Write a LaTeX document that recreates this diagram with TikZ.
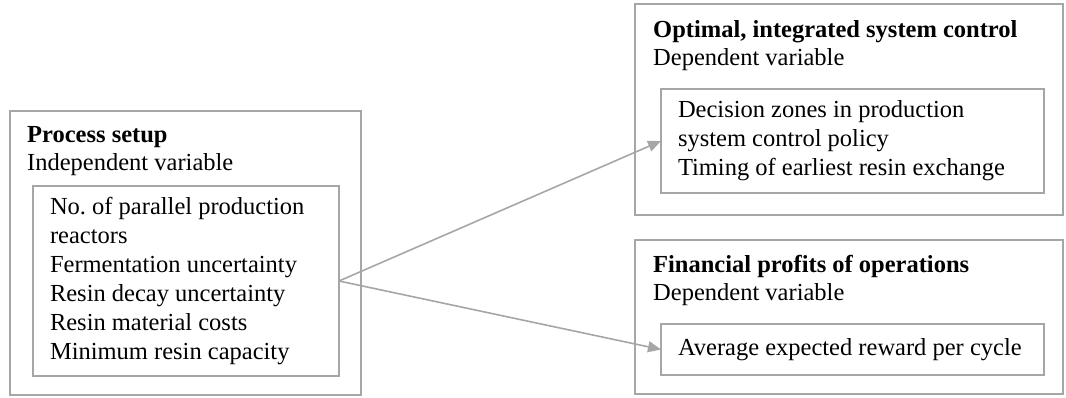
\documentclass[tikz,border=0pt]{standalone}
\usepackage{fontspec}
\setmainfont{Liberation Serif}
\usepackage{xcolor}
\usetikzlibrary{arrows.meta,positioning}
\definecolor{boxgray}{RGB}{166,166,166}

\begin{document}
\begin{tikzpicture}[x=1pt, y=-1pt, >={Triangle[length=13pt,width=11pt]},
  frame/.style={draw=boxgray, line width=1.6pt, anchor=north west,
    inner sep=0pt, outer sep=0pt},
  head/.style={anchor=base west, align=left, inner sep=0pt,
    font=\fontsize{24.5}{28}\selectfont},
  items/.style={draw=boxgray, line width=1.6pt, anchor=north west,
    align=flush left, inner xsep=17pt, inner ysep=0pt, outer sep=0pt,
    font=\fontsize{24.5}{29}\selectfont\frenchspacing},
  arr/.style={->, line width=1.6pt, color=boxgray}
]
\useasboundingbox (0,0) rectangle (1066,397);

% Independent side
\node[frame, minimum width=351pt, minimum height=284pt] (setup) at (10,111) {};
\node[head] (setuphead) at (27,170) {\textbf{Process setup}\\Independent variable};
\node[items, text width=272pt, minimum height=190pt] (inputs) at (33,186)
  {No. of parallel production\\reactors\\Fermentation uncertainty\\Resin decay uncertainty\\Resin material costs\\Minimum resin capacity};

% Dependent side: control
\node[frame, minimum width=428pt, minimum height=211pt] (control) at (635,4) {};
\node[head] (controlhead) at (653,65) {\textbf{Optimal, integrated system control}\\Dependent variable};
\node[items, text width=349pt, minimum height=104pt] (policy) at (661,89)
  {Decision zones in production\\system control policy\\Timing of earliest resin exchange};

% Dependent side: profits
\node[frame, minimum width=428pt, minimum height=154pt] (profit) at (635,240) {};
\node[head] (profithead) at (653,300) {\textbf{Financial profits of operations}\\Dependent variable};
\node[items, text width=349pt, minimum height=51pt] (reward) at (661,324)
  {Average expected reward per cycle};

\draw[arr] (inputs.east) -- (policy.west);
\draw[arr] (inputs.east) -- (reward.west);
\end{tikzpicture}
\end{document}
